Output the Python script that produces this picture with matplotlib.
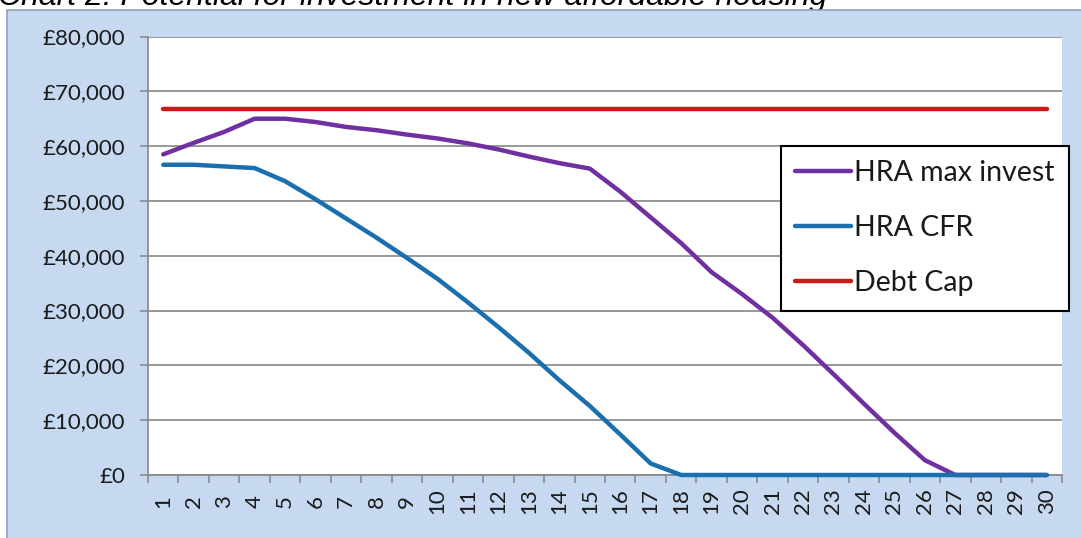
import matplotlib.pyplot as plt
from matplotlib.patches import Rectangle
from matplotlib.ticker import FuncFormatter, MultipleLocator

# Years of the business plan
years = list(range(1, 31))

# HRA headroom for new investment (£000s)
max_invest = [58500, 60600, 62600, 65000, 65000, 64400, 63500, 62900, 62100, 61400,
              60500, 59400, 58100, 56900, 55900, 51700, 47000, 42300, 37000, 33000,
              28700, 23700, 18400, 13000, 7700, 2700, 0, 0, 0, 0]

# HRA capital financing requirement
cfr = [56600, 56600, 56300, 56000, 53600, 50300, 46800, 43300, 39600, 35800,
       31500, 27000, 22300, 17300, 12600, 7400, 2100, 0, 0, 0,
       0, 0, 0, 0, 0, 0, 0, 0, 0, 0]

# Borrowing limit
debt_cap = 66800

y_ticks = [0, 10000, 20000, 30000, 40000, 50000, 60000, 70000, 80000]

W, H = 1081, 538
fig = plt.figure(figsize=(W / 100, H / 100), dpi=100, facecolor="white")
plt.rcParams["font.family"] = ["Lato", "DejaVu Sans"]

# title, partly cut off by the top edge
fig.text(-2 / W, 1 - 5.5 / H, "Chart 2: Potential for investment in new affordable housing",
         fontsize=23, style="italic", family="Liberation Sans",
         ha="left", va="baseline", zorder=0)

# light blue chart area behind the plot
panel = Rectangle((7 / W, -0.05), 1.0, 1 - 10 / H + 0.05, transform=fig.transFigure,
                  facecolor="#C6D9F1", edgecolor="#8EA2BD", linewidth=1.2, zorder=1)
fig.patches.append(panel)

ax = fig.add_axes([148 / W, 1 - 475 / H, 914 / W, 438.5 / H], zorder=2)
ax.set_facecolor("white")

ax.plot(years, max_invest, color="#7030A0", lw=3.2, label="HRA max invest",
        solid_capstyle="round", clip_on=False, zorder=3)
ax.plot(years, cfr, color="#1B6FAE", lw=3.2, label="HRA CFR",
        solid_capstyle="round", clip_on=False, zorder=4)
ax.plot([years[0], years[-1]], [debt_cap, debt_cap], color="#C81A1A", lw=3.2,
        label="Debt Cap", solid_capstyle="round", clip_on=False, zorder=5)

ax.set_xlim(0.5, 30.5)
ax.set_ylim(0, 80000)
ax.set_yticks(y_ticks)
ax.yaxis.set_major_formatter(FuncFormatter(lambda v, p: "£{:,.0f}".format(v)))
ax.grid(axis="y", color="#868686", lw=1.2)
ax.set_axisbelow(True)

ax.set_xticks(years)
ax.set_xticklabels([str(y) for y in years], rotation=90, va="center")
ax.xaxis.set_minor_locator(MultipleLocator(1, offset=0.5))
ax.tick_params(axis="x", which="major", length=0, pad=19, labelsize=16, colors="#1a1a1a")
ax.tick_params(axis="x", which="minor", length=5.5, width=1.1, color="#868686")
ax.tick_params(axis="y", length=5.5, width=1.1, color="#868686", pad=11,
               labelsize=16, labelcolor="#1a1a1a")

for side in ["top", "right"]:
    ax.spines[side].set_visible(False)
for side in ["left", "bottom"]:
    ax.spines[side].set_color("#868686")
    ax.spines[side].set_linewidth(1.2)

leg = ax.legend(loc="upper left", bbox_to_anchor=(781 / W, 1 - 146 / H),
                bbox_transform=fig.transFigure, borderaxespad=0, fontsize=20.5,
                frameon=True, fancybox=False, framealpha=1, edgecolor="black",
                handlelength=1.95, handletextpad=0.12, labelspacing=1.02, borderpad=0.5)
leg.get_frame().set_linewidth(1.5)
for txt in leg.get_texts():
    txt.set_color("#1a1a1a")

fig.savefig("out.png", dpi=100)
